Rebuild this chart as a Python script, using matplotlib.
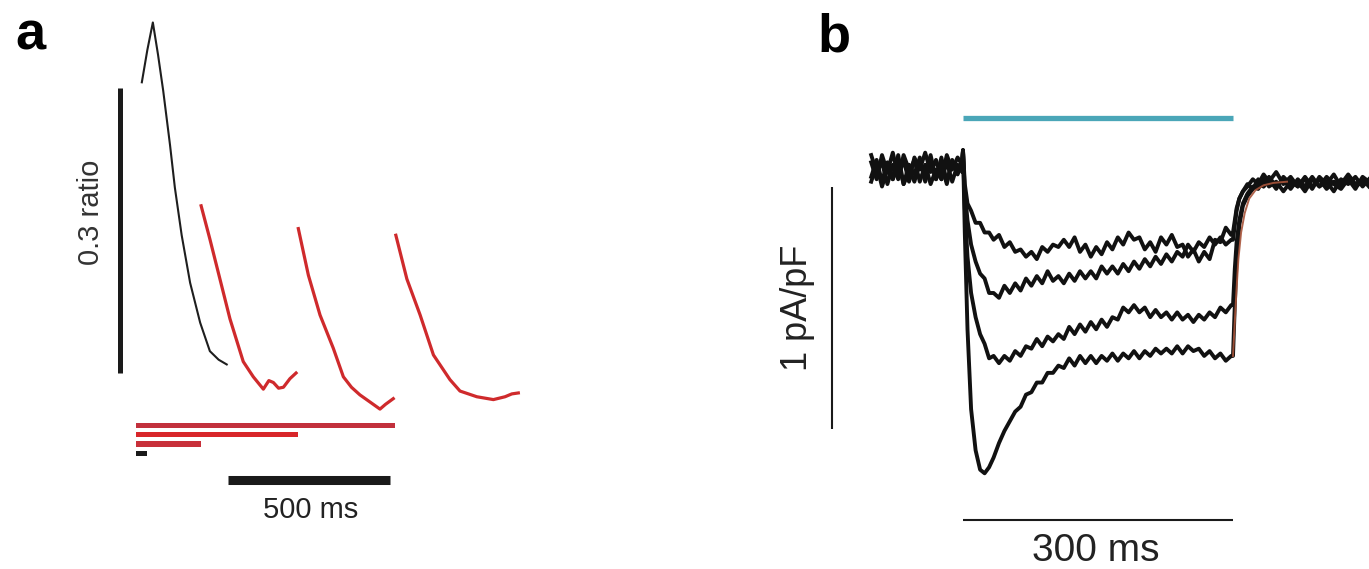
import matplotlib
matplotlib.use("Agg")
import matplotlib.pyplot as plt
from matplotlib import font_manager

# ---------------- panel a: ratio transients (ms, ratio) ----------------
black_t = [18, 35, 52, 68, 84, 105, 120, 141, 167, 198, 228, 255, 280]
black_r = [0.306, 0.340, 0.369, 0.335, 0.297, 0.240, 0.195, 0.145, 0.095, 0.053, 0.023, 0.014, 0.009]

red1_t = [201, 228, 259, 290, 331, 362, 393, 410, 424, 440, 455, 475, 494]
red1_r = [0.176, 0.141, 0.099, 0.057, 0.012, -0.004, -0.017, -0.008, -0.010, -0.016, -0.015, -0.006, 0.000]

red2_t = [501, 532, 568, 609, 640, 665, 691, 720, 753, 770, 794]
red2_r = [0.152, 0.103, 0.061, 0.026, -0.004, -0.015, -0.023, -0.030, -0.038, -0.033, -0.027]

red3_t = [802, 836, 877, 918, 969, 1000, 1052, 1103, 1139, 1160, 1180]
red3_r = [0.145, 0.099, 0.061, 0.019, -0.007, -0.019, -0.025, -0.028, -0.025, -0.022, -0.021]

# pulse-train durations (ms), top to bottom
bar_ends = [800, 500, 200, 33]
bar_colors = ["#c2303c", "#d8262a", "#c8303a", "#1a1a1a"]

# ---------------- panel b: current traces (ms, pA/pF) ----------------
pre_t = [-102, -96, -90, -84, -78, -72, -66, -60, -54, -48, -42, -36, -30, -24, -18, -12, -6, -1]
stim_t = [0, 2, 5, 9, 14, 19, 24, 29, 34, 40,
          46, 52, 58, 64, 70, 76, 82, 88, 94, 100,
          106, 112, 118, 124, 130, 136, 142, 148, 154, 160,
          166, 172, 178, 184, 190, 196, 202, 208, 214, 220,
          226, 232, 238, 244, 250, 256, 262, 268, 274, 280,
          286, 292, 298]
post_t = [300, 302, 304, 307, 311, 316, 322, 328, 334, 340, 348, 356,
          364, 372, 380, 388, 396, 404, 412, 420, 428, 436, 444, 451]

a_pre = [0.04, -0.03, 0.07, 0.00, 0.08, -0.02, 0.05, -0.04, 0.06, 0.01, 0.08, 0.00, 0.05, -0.03, 0.07, 0.01, 0.06, 0.03]
a_stim = [0.09, -0.05, -0.13, -0.16, -0.21, -0.21, -0.25, -0.25, -0.28, -0.26,
          -0.31, -0.29, -0.33, -0.32, -0.35, -0.33, -0.36, -0.31, -0.33, -0.30,
          -0.31, -0.28, -0.31, -0.27, -0.33, -0.30, -0.35, -0.31, -0.34, -0.29,
          -0.32, -0.27, -0.30, -0.25, -0.28, -0.27, -0.32, -0.29, -0.33, -0.27,
          -0.30, -0.26, -0.31, -0.30, -0.35, -0.32, -0.37, -0.33, -0.36, -0.28,
          -0.29, -0.23, -0.26]
a_post = [-0.25, -0.20, -0.15, -0.11, -0.08, -0.06, -0.03, -0.05, -0.01, -0.04, 0.00, -0.05,
          -0.02, -0.06, -0.03, -0.07, -0.02, -0.05, -0.01, -0.06, -0.03, -0.07, -0.02, -0.04]

b_pre = [-0.02, 0.05, -0.04, 0.04, -0.03, 0.07, -0.05, 0.03, -0.01, 0.06, -0.04, 0.04, -0.03, 0.06, -0.04, 0.04, 0.00, 0.05]
b_stim = [0.09, -0.08, -0.20, -0.30, -0.37, -0.42, -0.44, -0.50, -0.50, -0.52,
          -0.47, -0.50, -0.46, -0.49, -0.44, -0.47, -0.43, -0.46, -0.41, -0.45,
          -0.43, -0.46, -0.42, -0.45, -0.41, -0.44, -0.41, -0.44, -0.39, -0.42,
          -0.39, -0.42, -0.38, -0.41, -0.37, -0.40, -0.36, -0.39, -0.35, -0.38,
          -0.34, -0.37, -0.33, -0.35, -0.30, -0.33, -0.29, -0.31, -0.27, -0.30,
          -0.27, -0.30, -0.28]
b_post = [-0.28, -0.22, -0.16, -0.11, -0.08, -0.05, -0.07, -0.03, -0.06, -0.02, -0.06, -0.03,
          -0.07, -0.03, -0.06, -0.02, -0.06, -0.04, -0.08, -0.03, -0.05, -0.02, -0.06, -0.03]

c_pre = [0.07, 0.00, 0.04, -0.05, 0.03, -0.03, 0.07, 0.01, -0.04, 0.04, -0.01, 0.07, -0.03, 0.03, -0.05, 0.05, -0.01, 0.04]
c_stim = [0.09, -0.15, -0.35, -0.50, -0.60, -0.67, -0.71, -0.77, -0.76, -0.79,
          -0.76, -0.78, -0.74, -0.76, -0.72, -0.73, -0.69, -0.72, -0.68, -0.70,
          -0.67, -0.69, -0.64, -0.67, -0.63, -0.66, -0.62, -0.65, -0.61, -0.64,
          -0.60, -0.61, -0.56, -0.58, -0.55, -0.58, -0.56, -0.60, -0.57, -0.60,
          -0.58, -0.61, -0.58, -0.61, -0.59, -0.62, -0.59, -0.61, -0.58, -0.60,
          -0.56, -0.58, -0.55]
c_post = [-0.55, -0.40, -0.29, -0.20, -0.13, -0.09, -0.06, -0.07, -0.03, -0.06, -0.04, -0.08,
          -0.04, -0.06, -0.02, -0.06, -0.03, -0.07, -0.04, -0.05, -0.01, -0.05, -0.03, -0.06]

d_pre = [-0.04, 0.03, -0.06, 0.01, -0.03, 0.04, -0.05, 0.00, 0.05, -0.04, 0.03, -0.05, 0.01, -0.03, 0.04, -0.04, 0.03, 0.00]
d_stim = [0.09, -0.25, -0.65, -0.98, -1.15, -1.23, -1.245, -1.22, -1.18, -1.12,
          -1.07, -1.03, -0.99, -0.97, -0.92, -0.91, -0.87, -0.87, -0.83, -0.83,
          -0.80, -0.81, -0.77, -0.80, -0.76, -0.79, -0.76, -0.79, -0.76, -0.78,
          -0.75, -0.78, -0.75, -0.77, -0.74, -0.77, -0.74, -0.76, -0.73, -0.75,
          -0.73, -0.75, -0.72, -0.75, -0.72, -0.74, -0.73, -0.76, -0.74, -0.77,
          -0.75, -0.78, -0.76]
d_post = [-0.76, -0.55, -0.36, -0.22, -0.14, -0.10, -0.07, -0.05, -0.06, -0.03, -0.07, -0.02,
          -0.05, -0.04, -0.08, -0.03, -0.06, -0.02, -0.05, -0.07, -0.03, -0.06, -0.04, -0.05]

# exponential fit of the deactivation (drawn in brown)
fit_t = [300, 302, 304, 306, 309, 313, 318, 325, 334, 345, 360]
fit_v = [-0.76, -0.62, -0.48, -0.36, -0.25, -0.17, -0.11, -0.075, -0.055, -0.045, -0.04]

light_on = (0, 300)  # ms, cyan bar


def pick_narrow():
    for fam in ["Liberation Sans Narrow", "Arial Narrow"]:
        try:
            font_manager.findfont(fam, fallback_to_default=False)
            return fam, 25
        except Exception:
            pass
    return "Liberation Sans", 21


plt.rcParams["font.family"] = ["Liberation Sans", "DejaVu Sans"]

W, H = 1369, 569
fig = plt.figure(figsize=(W / 100, H / 100), dpi=100)

# panel a: px x 0..600 ; ms = (px-136)/0.324 ; ratio = (373-py)/950
ax_a = fig.add_axes([0, 0, 600 / W, 1])
ax_a.set_xlim((0 - 136) / 0.324, (600 - 136) / 0.324)
ax_a.set_ylim((373 - 569) / 950, 373 / 950)
ax_a.axis("off")

ax_a.plot(black_t, black_r, color="#1e1e1e", lw=1.5)
for tt, rr in [(red1_t, red1_r), (red2_t, red2_r), (red3_t, red3_r)]:
    ax_a.plot(tt, rr, color="#cf2a2c", lw=2.3, solid_joinstyle="round")

bar_y = [-0.0553, -0.0647, -0.0747, -0.0847]
ax_a.barh(bar_y, bar_ends, left=0, height=0.0062, color=bar_colors)

# scale bars
ax_a.plot([-48, -48], [0, 0.3], color="#1a1a1a", lw=3.6, solid_capstyle="butt")
ax_a.plot([285, 785], [-0.113, -0.113], color="#1a1a1a", lw=6.5, solid_capstyle="butt")
ax_a.text(-139, 0.1695, "0.3 ratio", rotation=90, ha="center", va="center",
          fontsize=21, color="#333333")
nfam, nsize = pick_narrow()
ax_a.text(540, -0.1442, "500 ms", ha="center", va="center", fontsize=nsize,
          color="#222222", family=[nfam, "DejaVu Sans"])

# panel b: px x 700..1369 ; ms = (px-963)/0.9 ; pA/pF = (172-py)/242
ax_b = fig.add_axes([700 / W, 0, (W - 700) / W, 1])
ax_b.set_xlim((700 - 963) / 0.9, (W - 963) / 0.9)
ax_b.set_ylim((172 - 569) / 242, 172 / 242)
ax_b.axis("off")

for pre, stim, post in [(a_pre, a_stim, a_post), (b_pre, b_stim, b_post),
                        (c_pre, c_stim, c_post), (d_pre, d_stim, d_post)]:
    ax_b.plot(pre_t + stim_t + post_t, pre + stim + post, color="#111111", lw=2.8,
              solid_joinstyle="round")
ax_b.plot(fit_t, fit_v, color="#a8543a", lw=1.4, alpha=0.9)

ax_b.plot(light_on, [0.225, 0.225], color="#4aa6b8", lw=3.8, solid_capstyle="butt")
ax_b.plot([-146, -146], [-0.06, -1.06], color="#1a1a1a", lw=1.5, solid_capstyle="butt")
ax_b.plot([0, 300], [-1.438, -1.438], color="#1a1a1a", lw=1.5, solid_capstyle="butt")
ax_b.text(-184, -0.562, "1 pA/pF", rotation=90, ha="center", va="center",
          fontsize=26, color="#222222")
ax_b.text(148, -1.566, "300 ms", ha="center", va="center", fontsize=28, color="#222222")

fig.text(15 / W, 1 - 49 / H, "a", fontsize=39, fontweight="bold", va="baseline")
fig.text(817 / W, 1 - 51 / H, "b", fontsize=39, fontweight="bold", va="baseline")

fig.savefig("out.png", dpi=100, facecolor="white")
